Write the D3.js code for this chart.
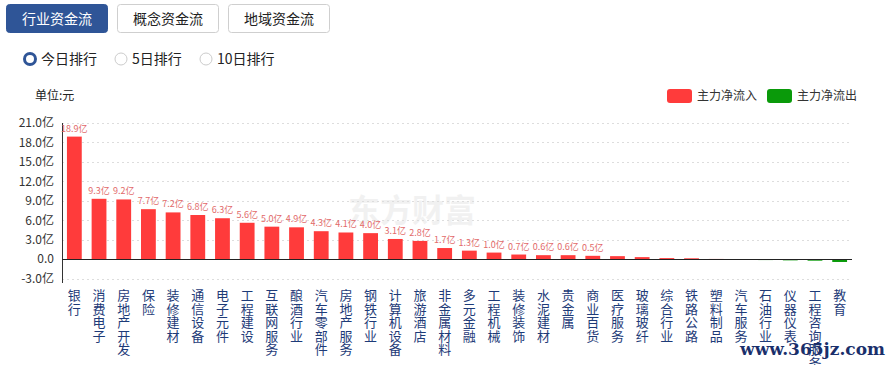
<!DOCTYPE html>
<html><head><meta charset="utf-8">
<script src="https://cdn.jsdelivr.net/npm/d3@7"></script>
<style>
body{margin:0;background:#fff;font-family:"Noto Sans CJK SC","Noto Sans",sans-serif;}
svg{display:block;}
</style></head><body>
<svg id="c" width="894" height="365"></svg>
<script>
const categories = ["银行","消费电子","房地产开发","保险","装修建材","通信设备","电子元件","工程建设","互联网服务","酿酒行业","汽车零部件","房地产服务","钢铁行业","计算机设备","旅游酒店","非金属材料","多元金融","工程机械","装修装饰","水泥建材","贵金属","商业百货","医疗服务","玻璃玻纤","综合行业","铁路公路","塑料制品","汽车服务","石油行业","仪器仪表","工程咨询服务","教育"];
const values = [18.9,9.3,9.2,7.7,7.2,6.8,6.3,5.6,5.0,4.9,4.3,4.1,4.0,3.1,2.8,1.7,1.3,1.0,0.7,0.6,0.6,0.5,0.45,0.3,0.15,0.12,0.02,-0.02,-0.15,-0.2,-0.25,-0.45];
const yTicks = [-3,0,3,6,9,12,15,18,21];
const tabs = ["行业资金流","概念资金流","地域资金流"];
const radios = ["今日排行","5日排行","10日排行"];
const legendItems = [{name:"主力净流入",color:"#ff3b3b"},{name:"主力净流出",color:"#0a9a0a"}];

const svg = d3.select("#c");
const font = '"Noto Sans CJK SC","Noto Sans",sans-serif';

// tabs
const tabX = [6,117,228];
tabs.forEach((t,i)=>{
  const g = svg.append("g");
  g.append("rect").attr("x",tabX[i]+0.5).attr("y",4.5).attr("width",101).attr("height",28).attr("rx",3)
    .attr("fill", i===0?"#2f5597":"#fff").attr("stroke", i===0?"#2f5597":"#cfcfcf");
  g.append("text").attr("x",tabX[i]+51).attr("y",24).attr("text-anchor","middle")
    .attr("font-size",14).attr("font-family",font).attr("fill", i===0?"#fff":"#222").text(t);
});
// radios
const rX = [30,121,206];
radios.forEach((t,i)=>{
  if(i===0){
    svg.append("circle").attr("cx",rX[i]).attr("cy",59).attr("r",5.5).attr("fill","#fff").attr("stroke","#2f5597").attr("stroke-width",3);
  } else {
    svg.append("circle").attr("cx",rX[i]).attr("cy",59).attr("r",6).attr("fill","#fff").attr("stroke","#ccc");
  }
  svg.append("text").attr("x",rX[i]+11).attr("y",64).attr("font-size",14).attr("font-family",font).attr("fill","#222").text(t);
});

svg.append("text").attr("x",35).attr("y",100).attr("font-size",12).attr("font-family",font).attr("fill","#222").text("单位:元");

// legend
legendItems.forEach((d,i)=>{
  const x0 = 667 + i*100;
  svg.append("rect").attr("x",x0).attr("y",89).attr("width",25).attr("height",14).attr("rx",3).attr("fill",d.color);
  svg.append("text").attr("x",x0+30).attr("y",100).attr("font-size",12).attr("font-family",font).attr("fill","#333").text(d.name);
});

// watermark
svg.append("text").attr("x",412).attr("y",222).attr("text-anchor","middle").attr("font-size",32).attr("font-weight","bold")
  .attr("font-family",font).attr("fill","#000").attr("opacity",0.05).text("东方财富");

const left=62, right=852;
const x = d3.scaleBand().domain(categories).range([left,right]).paddingInner(0.4).paddingOuter(0.2);
const y = d3.scaleLinear().domain([-3,21]).range([278.5,123]);

// grid
svg.append("g").selectAll("line").data(yTicks.filter(v=>v!==0)).join("line")
  .attr("x1",left).attr("x2",right).attr("y1",d=>Math.round(y(d))+0.5).attr("y2",d=>Math.round(y(d))+0.5)
  .attr("stroke","#ddd").attr("stroke-dasharray","2,3");

// y axis
const yAxis = d3.axisLeft(y).tickValues(yTicks).tickSize(0).tickPadding(8)
  .tickFormat(d=> d===0 ? "0.0" : d.toFixed(1)+"亿");
const ya = svg.append("g").attr("transform",`translate(${left},0)`).call(yAxis);
ya.select(".domain").attr("stroke","#333").attr("d",`M0.5,123V283`);
ya.selectAll("text").attr("font-size",12).attr("font-family",font).attr("fill","#333");

// bars
svg.append("g").selectAll("rect").data(values).join("rect")
  .attr("x",(d,i)=>x(categories[i])).attr("width",x.bandwidth())
  .attr("y",d=>d>=0 ? y(d) : y(0))
  .attr("height",d=>Math.max(Math.abs(y(d)-y(0)), Math.abs(d)>0.05?1:0))
  .attr("fill",d=>d>=0?"#ff3b3b":"#0a9a0a");

// zero line
svg.append("line").attr("x1",left).attr("x2",right).attr("y1",Math.round(y(0))+0.5).attr("y2",Math.round(y(0))+0.5).attr("stroke","#222");

// value labels
values.forEach((d,i)=>{
  if(d>=0.5){
    svg.append("text").attr("x",x(categories[i])+x.bandwidth()/2).attr("y",y(d)-5)
      .attr("text-anchor","middle").attr("font-size",9).attr("font-family",font).attr("fill","#e26a6a").text(d.toFixed(1)+"亿");
  }
});

// category labels (vertical)
categories.forEach((c,i)=>{
  const t = svg.append("text").attr("font-size",13).attr("font-family",font).attr("fill","#1e3b78").attr("text-anchor","middle");
  const cx = x(c)+x.bandwidth()/2;
  Array.from(c).forEach((ch,k)=>{
    t.append("tspan").attr("x",cx).attr("y",300+k*13.5).text(ch);
  });
});

// site watermark
svg.append("text").attr("x",885).attr("y",355).attr("text-anchor","end").attr("font-size",17)
  .attr("font-family","DejaVu Serif, serif").attr("font-weight","bold").attr("fill","#1a2f6b").text("www.365jz.com");
</script>
</body></html>
